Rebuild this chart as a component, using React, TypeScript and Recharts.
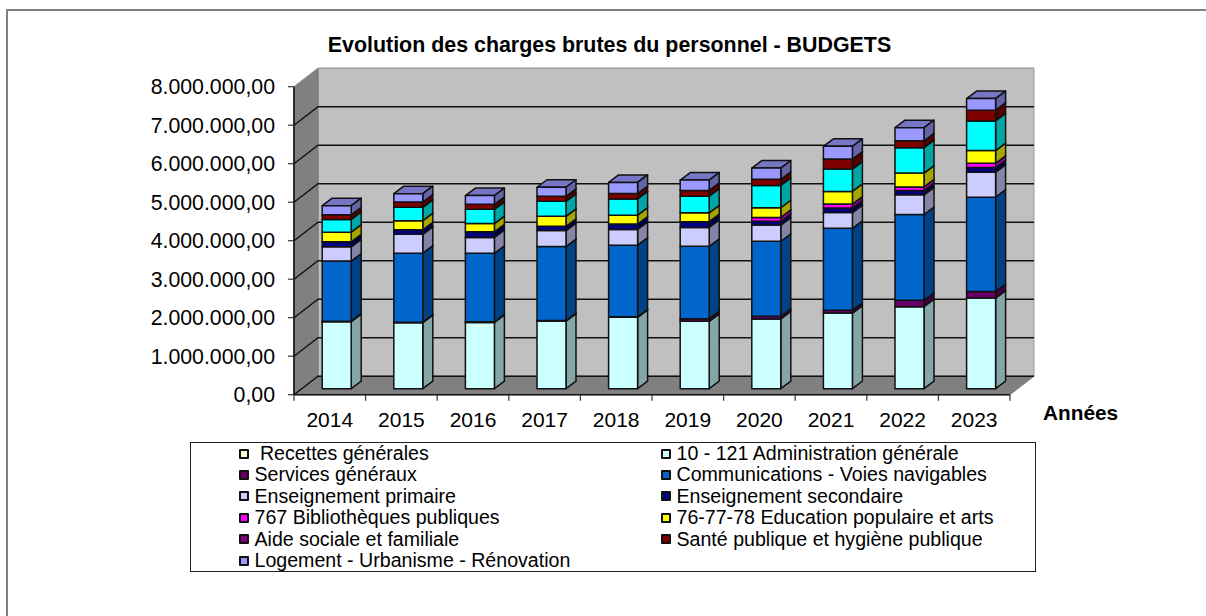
import { Bar, BarChart, CartesianGrid, Legend, XAxis, YAxis } from "recharts";

const years = ["2014", "2015", "2016", "2017", "2018", "2019", "2020", "2021", "2022", "2023"];

const recettes = [0, 0, 0, 0, 0, 0, 0, 0, 0, 0];
const administration = [1740000, 1714000, 1722000, 1757000, 1853000, 1749000, 1810000, 1965000, 2130000, 2355000];
const services = [15000, 15000, 15000, 15000, 15000, 70000, 70000, 70000, 165000, 170000];
const communications = [1560000, 1790000, 1780000, 1920000, 1860000, 1880000, 1950000, 2130000, 2230000, 2450000];
const primaire = [370000, 490000, 410000, 416000, 410000, 490000, 420000, 410000, 510000, 650000];
const secondaire = [130000, 120000, 147000, 110000, 140000, 150000, 100000, 120000, 110000, 120000];
const bibliotheques = [0, 0, 0, 0, 0, 0, 100000, 100000, 95000, 110000];
const education = [250000, 235000, 216000, 260000, 230000, 230000, 250000, 330000, 360000, 330000];
const aide = [330000, 346000, 370000, 390000, 420000, 430000, 580000, 580000, 660000, 770000];
const sante = [120000, 140000, 130000, 130000, 140000, 150000, 160000, 260000, 180000, 280000];
const logement = [240000, 216000, 225000, 234000, 290000, 270000, 290000, 330000, 340000, 300000];

const yTicks = [0, 1000000, 2000000, 3000000, 4000000, 5000000, 6000000, 7000000, 8000000];

const FONT = "'Liberation Sans', Arial, sans-serif";

// name, values, front colour, side colour, top colour, legend swatch
const series: [string, number[], string, string, string, string][] = [
  [" Recettes générales", recettes, "#FFFFCC", "#A6A685", "#C4C49C", "#FFFFCC"],
  ["10 - 121 Administration générale", administration, "#CCFFFF", "#84A6A6", "#9CC4C4", "#CCFFFF"],
  ["Services généraux", services, "#660066", "#420042", "#4E004E", "#660066"],
  ["Communications - Voies navigables", communications, "#0066CC", "#004285", "#004E9C", "#0066CC"],
  ["Enseignement primaire", primaire, "#CCCCFF", "#8484A6", "#9C9CC4", "#CCCCFF"],
  ["Enseignement secondaire", secondaire, "#000080", "#000053", "#000062", "#000080"],
  ["767 Bibliothèques publiques", bibliotheques, "#FF00FF", "#A600A6", "#C400C4", "#FF00FF"],
  ["76-77-78 Education populaire et arts", education, "#FFFF00", "#A6A600", "#C4C400", "#FFFF00"],
  ["Aide sociale et familiale", aide, "#00FFFF", "#00A6A6", "#00C4C4", "#800080"],
  ["Santé publique et hygiène publique", sante, "#800000", "#530000", "#620000", "#800000"],
  ["Logement - Urbanisme - Rénovation", logement, "#9999FF", "#6464A6", "#7676C4", "#9999FF"],
];

const chartData = years.map((year, i) => {
  const row: Record<string, number | string> = { year };
  series.forEach(([name, values]) => {
    row[name] = values[i];
  });
  return row;
});

const left = 294;
const right = 1010;
const top = 86.7;
const bottom = 394.7;
const depthX = 24;
const depthY = 18.5;
const barShiftX = 7.2;
const barShiftY = 6;
const barDepthX = 10;
const barDepthY = 7.5;

function formatAmount(value: number) {
  return value.toLocaleString("de-DE", { minimumFractionDigits: 2, maximumFractionDigits: 2 });
}

function Bar3D(props: any) {
  const { x, y, width, height, front, side, roof } = props;
  if (!height || height <= 0) return null;
  const x0 = x + barShiftX;
  const y0 = y - barShiftY;
  const x1 = x0 + width;
  const y1 = y0 + height;
  const line = { stroke: "#111", strokeWidth: 1.5, strokeLinejoin: "round" as const };
  return (
    <g>
      <polygon
        points={`${x0},${y0} ${x1},${y0} ${x1 + barDepthX},${y0 - barDepthY} ${x0 + barDepthX},${y0 - barDepthY}`}
        fill={roof}
        {...line}
      />
      <polygon
        points={`${x1},${y0} ${x1 + barDepthX},${y0 - barDepthY} ${x1 + barDepthX},${y1 - barDepthY} ${x1},${y1}`}
        fill={side}
        {...line}
      />
      <rect x={x0} y={y0} width={width} height={height} fill={front} {...line} />
    </g>
  );
}

function Walls() {
  return (
    <g>
      <polygon
        points={`${left + depthX},${top - depthY} ${right + depthX},${top - depthY} ${right + depthX},${bottom - depthY} ${left + depthX},${bottom - depthY}`}
        fill="#C0C0C0"
        stroke="#9a9a9a"
      />
      <polygon
        points={`${left},${top} ${left + depthX},${top - depthY} ${left + depthX},${bottom - depthY} ${left},${bottom}`}
        fill="#808080"
        stroke="#777"
      />
      <polygon
        points={`${left},${bottom} ${right},${bottom} ${right + depthX},${bottom - depthY} ${left + depthX},${bottom - depthY}`}
        fill="#808080"
        stroke="#808080"
      />
    </g>
  );
}

// the walls sit in the first grid line so the lines stay on top of them
function gridLine(props: any) {
  const { y1, key, index } = props;
  const muted = Math.abs(y1 - top) < 1;
  return (
    <g key={key ?? index}>
      {index === 0 && <Walls />}
      <polyline
        points={`${left},${y1} ${left + depthX},${y1 - depthY} ${right + depthX},${y1 - depthY}`}
        fill="none"
        stroke={muted ? "#9a9a9a" : "#111"}
        strokeWidth={muted ? 1 : 1.4}
      />
    </g>
  );
}

function YearTick(props: any) {
  const { x, payload, index } = props;
  const step = (right - left) / years.length;
  return (
    <g>
      <line x1={x - step / 2} y1={bottom} x2={x - step / 2} y2={bottom + 6} stroke="#333" strokeWidth={1.2} />
      {index === years.length - 1 && (
        <line x1={x + step / 2} y1={bottom} x2={x + step / 2} y2={bottom + 6} stroke="#333" strokeWidth={1.2} />
      )}
      <text x={x} y={bottom + 32} textAnchor="middle" fontFamily={FONT} fontSize={21} fill="#000">
        {payload.value}
      </text>
    </g>
  );
}

function LegendBox() {
  const rows: (typeof series)[] = [];
  for (let i = 0; i < series.length; i += 2) rows.push(series.slice(i, i + 2));
  return (
    <div
      style={{
        boxSizing: "border-box",
        width: 846,
        height: 130,
        background: "#fff",
        border: "1.3px solid #222",
        fontFamily: FONT,
        fontSize: 19.6,
        color: "#000",
      }}
    >
      {rows.map((row, r) => (
        <div key={r} style={{ display: "flex", height: 21.4, lineHeight: "21.4px" }}>
          {row.map((item, c) => (
            <div
              key={item[0]}
              style={{
                display: "flex",
                alignItems: "center",
                position: "absolute",
                left: c === 0 ? 49 : 471,
              }}
            >
              <span
                style={{
                  boxSizing: "border-box",
                  width: 10,
                  height: 10,
                  marginRight: 5.5,
                  background: item[5],
                  border: "2px solid #111",
                  borderRadius: 1,
                }}
              />
              <span style={{ whiteSpace: "pre" }}>{item[0]}</span>
            </div>
          ))}
        </div>
      ))}
    </div>
  );
}

export default function App() {
  return (
    <div style={{ position: "absolute", left: 0, top: 0, width: 1206, height: 616, background: "#fff" }}>
      <div style={{ position: "absolute", left: 6, top: 9, width: 1200, height: 2, background: "#808080" }} />
      <div style={{ position: "absolute", left: 6, top: 9, width: 2, height: 607, background: "#808080" }} />
      <BarChart
        width={1206}
        height={616}
        data={chartData}
        margin={{ top, right: 1206 - right, bottom: 616 - bottom - 40, left: 0 }}
        barSize={29}
        style={{ position: "absolute", left: 0, top: 0 }}
      >
        <CartesianGrid vertical={false} horizontal={gridLine} />
        <text x={609.5} y={52} textAnchor="middle" fontFamily={FONT} fontSize={21.4} fontWeight="bold" fill="#000">
          Evolution des charges brutes du personnel - BUDGETS
        </text>
        <XAxis
          dataKey="year"
          height={40}
          interval={0}
          tickLine={false}
          tick={<YearTick />}
          axisLine={{ stroke: "#111", strokeWidth: 1.6 }}
          label={{
            value: "Années",
            position: "right",
            offset: 33,
            dy: -2,
            fontFamily: FONT,
            fontSize: 20.8,
            fontWeight: "bold",
            fill: "#000",
          }}
        />
        <YAxis
          width={left}
          domain={[0, 8000000]}
          ticks={yTicks}
          interval={0}
          tickFormatter={formatAmount}
          tickSize={6}
          tickMargin={13}
          tick={{ fontFamily: FONT, fontSize: 21.3, fill: "#000" }}
          tickLine={{ stroke: "#333", strokeWidth: 1.2 }}
          axisLine={{ stroke: "#111", strokeWidth: 1.6 }}
        />
        {series.map(([name, , front, side, roof]) => (
          <Bar
            key={name}
            dataKey={name}
            stackId="budget"
            isAnimationActive={false}
            fill={front}
            shape={<Bar3D front={front} side={side} roof={roof} />}
          />
        ))}
        <Legend
          layout="horizontal"
          align="center"
          verticalAlign="middle"
          content={<LegendBox />}
          wrapperStyle={{ position: "absolute", left: 190, top: 442, width: 846, height: 130 }}
        />
      </BarChart>
    </div>
  );
}
